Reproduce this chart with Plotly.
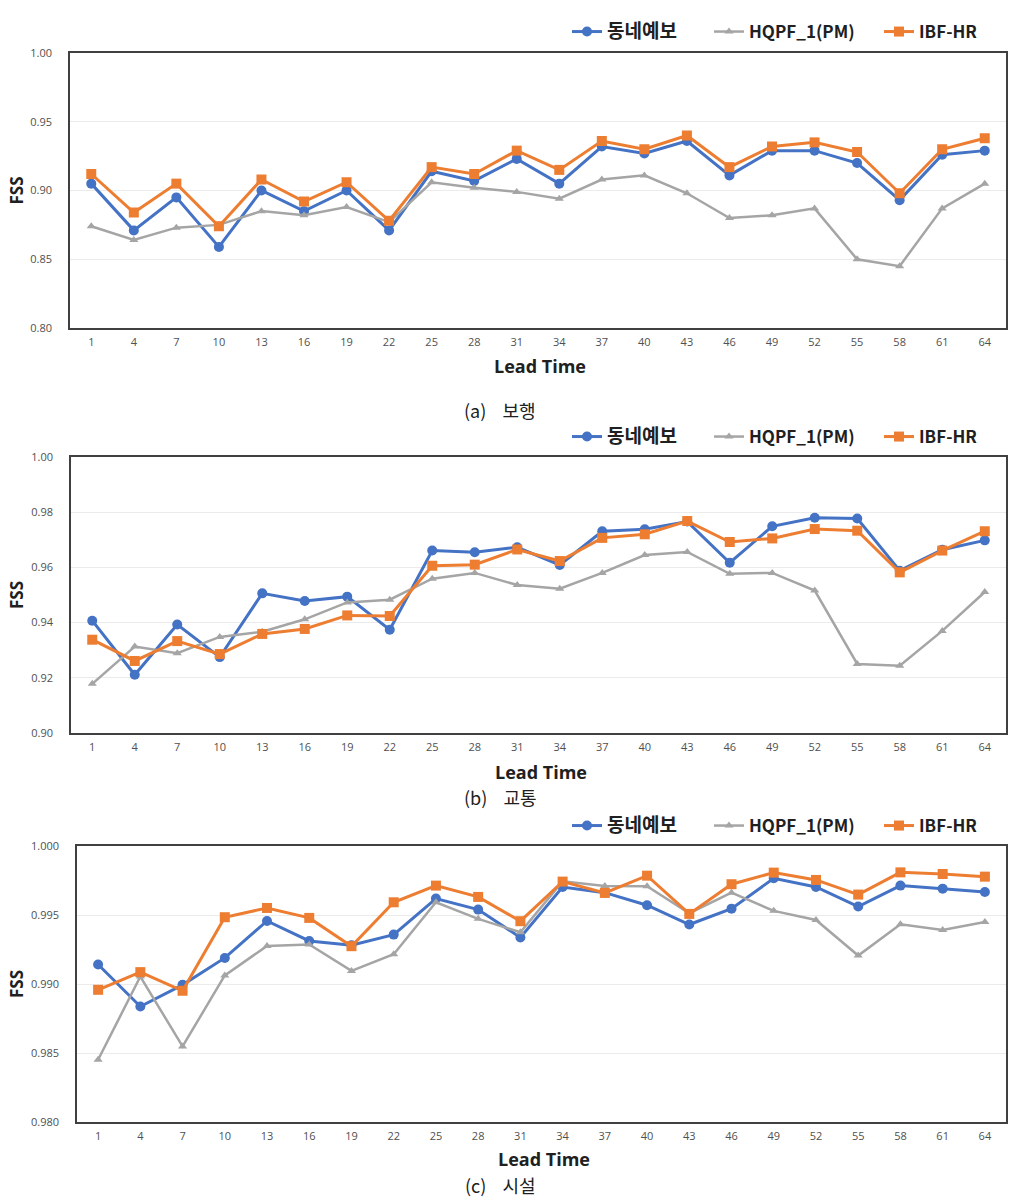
import plotly.graph_objects as go

lead_times = ["1", "4", "7", "10", "13", "16", "19", "22", "25", "28", "31",
              "34", "37", "40", "43", "46", "49", "52", "55", "58", "61", "64"]
series_names = ["동네예보", "HQPF_1(PM)", "IBF-HR"]
captions = ["(a)\u00a0\u00a0\u00a0\u00a0보행", "(b)\u00a0\u00a0\u00a0\u00a0교통", "(c)\u00a0\u00a0\u00a0\u00a0시설"]

# Panel (a) 보행
a_dongne = [0.905, 0.871, 0.895, 0.859, 0.900, 0.885, 0.900, 0.871, 0.914, 0.907, 0.923,
            0.905, 0.932, 0.927, 0.936, 0.911, 0.929, 0.929, 0.920, 0.893, 0.926, 0.929]
a_hqpf = [0.874, 0.864, 0.873, 0.875, 0.885, 0.882, 0.888, 0.877, 0.906, 0.902, 0.899,
          0.894, 0.908, 0.911, 0.898, 0.880, 0.882, 0.887, 0.850, 0.845, 0.887, 0.905]
a_ibf = [0.912, 0.884, 0.905, 0.874, 0.908, 0.892, 0.906, 0.878, 0.917, 0.912, 0.929,
         0.915, 0.936, 0.930, 0.940, 0.917, 0.932, 0.935, 0.928, 0.898, 0.930, 0.938]

# Panel (b) 교통
b_dongne = [0.9407, 0.9211, 0.9393, 0.9275, 0.9506, 0.9478, 0.9494, 0.9374, 0.9661, 0.9655, 0.9673,
            0.9609, 0.9731, 0.9738, 0.9766, 0.9617, 0.9749, 0.9780, 0.9777, 0.9588, 0.9664, 0.9698]
b_hqpf = [0.9178, 0.9313, 0.9289, 0.9348, 0.9367, 0.9412, 0.9473, 0.9483, 0.9559, 0.9580, 0.9536,
          0.9523, 0.9580, 0.9645, 0.9656, 0.9577, 0.9580, 0.9516, 0.9250, 0.9244, 0.9370, 0.9511]
b_ibf = [0.9338, 0.9261, 0.9333, 0.9286, 0.9359, 0.9377, 0.9426, 0.9424, 0.9606, 0.9610, 0.9665,
         0.9623, 0.9707, 0.9720, 0.9768, 0.9692, 0.9705, 0.9739, 0.9733, 0.9582, 0.9661, 0.9731]

# Panel (c) 시설
c_dongne = [0.99141, 0.98837, 0.98994, 0.99189, 0.99457, 0.99312, 0.99281, 0.99358, 0.99619, 0.99539, 0.99337,
            0.99703, 0.99662, 0.99571, 0.99431, 0.99546, 0.99766, 0.99703, 0.99561, 0.99713, 0.99691, 0.99667]
c_hqpf = [0.98451, 0.99054, 0.98548, 0.99062, 0.99276, 0.99286, 0.99095, 0.99216, 0.99592, 0.99472, 0.99375,
          0.99744, 0.99710, 0.99708, 0.99513, 0.99662, 0.99530, 0.99464, 0.99206, 0.99433, 0.99392, 0.99450]
c_ibf = [0.98958, 0.99086, 0.98951, 0.99484, 0.99551, 0.99479, 0.99274, 0.99592, 0.99713, 0.99631, 0.99455,
         0.99742, 0.99660, 0.99785, 0.99508, 0.99723, 0.99807, 0.99754, 0.99648, 0.99809, 0.99797, 0.99778]

y_ranges = [[0.80, 1.00], [0.90, 1.00], [0.980, 1.000]]
y_dticks = [0.05, 0.02, 0.005]
y_formats = [".2f", ".2f", ".3f"]

W, H = 1016, 1202
# panel boxes in pixels: (left, right, top, bottom)
boxes = [(70, 1006, 53, 328), (71, 1006, 457, 733), (77, 1006, 846, 1122)]
legend_y_px = [32, 437, 826]
legend_x_px = [567, 709, 879]
xtitle_y_px = [366, 772, 1159]
caption_y_px = [410, 797, 1185]

BLUE = "#4472C4"
GRAY = "#A5A5A5"
ORANGE = "#ED7D31"
FONT = "Open Sans, Noto Sans CJK KR, sans-serif"
KFONT = "Noto Sans CJK KR, sans-serif"

fig = go.Figure()
data = [(a_dongne, a_hqpf, a_ibf), (b_dongne, b_hqpf, b_ibf), (c_dongne, c_hqpf, c_ibf)]
styles = [
    dict(color=BLUE, width=3, symbol="circle", size=10),
    dict(color=GRAY, width=2.5, symbol="triangle-up", size=8),
    dict(color=ORANGE, width=3, symbol="square", size=10),
]
legend_labels = ["<span style='font-size:19px'>동네예보</span>", "HQPF_1(PM)", "IBF-HR"]

annotations = []
layout_upd = {}
for i, (vals, box) in enumerate(zip(data, boxes)):
    sfx = "" if i == 0 else str(i + 1)
    for j, (name, lab, v, st) in enumerate(zip(series_names, legend_labels, vals, styles)):
        k = i * 3 + j
        leg = "legend" if k == 0 else f"legend{k + 1}"
        fig.add_trace(go.Scatter(
            x=lead_times, y=v, name=lab, mode="lines+markers",
            line=dict(color=st["color"], width=st["width"]),
            marker=dict(color=st["color"], symbol=st["symbol"], size=st["size"]),
            xaxis="x" + sfx, yaxis="y" + sfx, legend=leg,
            hovertemplate=name + ": %{y}<extra></extra>",
        ))
        layout_upd[leg] = dict(
            orientation="h", x=legend_x_px[j] / W, xanchor="left",
            y=1 - legend_y_px[i] / H, yanchor="middle",
            font=dict(family=KFONT, size=17, color="#202020", weight="bold"),
            itemwidth=30, bgcolor="rgba(0,0,0,0)", borderwidth=0)
    l, r, t, b = box
    xd = [l / W, r / W]
    yd = [1 - b / H, 1 - t / H]
    layout_upd["xaxis" + sfx] = dict(
        domain=xd, anchor="y" + sfx, type="category", range=[-0.5, 21.5],
        automargin=False, showline=True, linecolor="#404040", linewidth=1.5, mirror=True,
        showgrid=False, ticks="", ticklabelstandoff=3,
        tickfont=dict(family=FONT, size=11, color="#505050"))
    layout_upd["yaxis" + sfx] = dict(
        domain=yd, anchor="x" + sfx, range=y_ranges[i], dtick=y_dticks[i],
        tickformat=y_formats[i], automargin=False, showline=True, linecolor="#404040",
        linewidth=1.5, mirror=True, showgrid=True, gridcolor="#EBEBEB",
        gridwidth=1, zeroline=False, ticks="", ticklabelstandoff=14,
        tickfont=dict(family=FONT, size=11, color="#505050"))
    annotations.append(dict(text="<b>Lead Time</b>", x=(l + r) / 2 / W + 0.002,
                            y=1 - xtitle_y_px[i] / H, xref="paper", yref="paper",
                            xanchor="center", yanchor="middle", showarrow=False,
                            font=dict(family=FONT, size=18, color="#202020")))
    annotations.append(dict(text="<b>FSS</b>", x=16 / W, y=1 - (t + b) / 2 / H, xref="paper",
                            yref="paper", xanchor="center", yanchor="middle",
                            showarrow=False, textangle=-90,
                            font=dict(family=FONT, size=17, color="#202020")))
    annotations.append(dict(text=captions[i], x=500 / W, y=1 - caption_y_px[i] / H,
                            xref="paper", yref="paper", xanchor="center", yanchor="middle",
                            showarrow=False,
                            font=dict(family=KFONT, size=18, color="#202020")))

fig.update_layout(width=W, height=H, margin=dict(l=0, r=0, t=0, b=0),
                  paper_bgcolor="white", plot_bgcolor="white",
                  annotations=annotations, showlegend=True, **layout_upd)
fig.write_html("out.html")
